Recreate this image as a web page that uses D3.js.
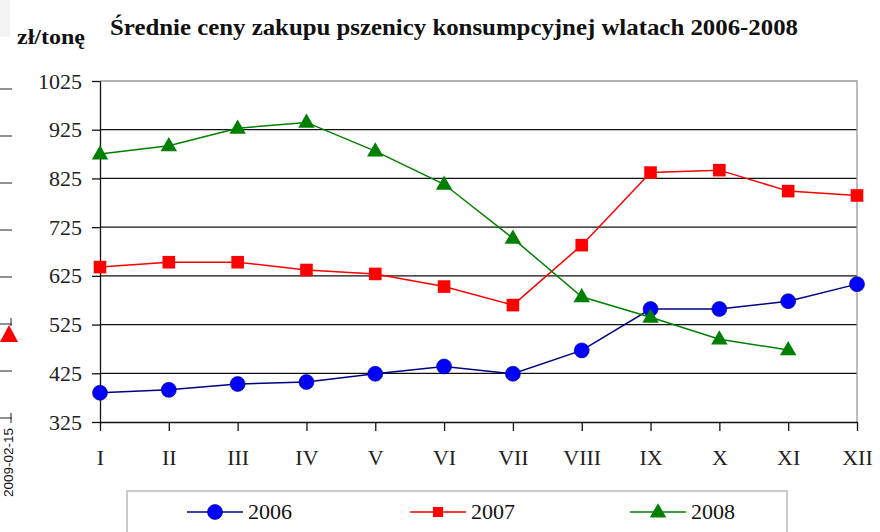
<!DOCTYPE html>
<html>
<head>
<meta charset="utf-8">
<script src="https://cdn.jsdelivr.net/npm/d3@7"></script>
<style>
  body { margin: 0; background: #fff; }
  svg { display: block; }
</style>
</head>
<body>
<div id="chart"></div>
<script>
// data
const MONTHS = ["I", "II", "III", "IV", "V", "VI", "VII", "VIII", "IX", "X", "XI", "XII"];
const Y_TICKS = [325, 425, 525, 625, 725, 825, 925, 1025];
const SERIES_NAMES = ["2006", "2007", "2008"];
const PRICES_2006 = [385, 391, 403, 407, 424, 439, 424, 472, 557, 557, 573, 608];
const PRICES_2007 = [643, 653, 653, 637, 629, 603, 565, 688, 837, 842, 799, 790];
const PRICES_2008 = [875, 892, 928, 940, 881, 813, 702, 582, 540, 495, 473];

const WIDTH = 880;
const HEIGHT = 532;
const PLOT = {left: 100, right: 857, top: 81, bottom: 422};
const SERIF = "'Liberation Serif'";

const SVG = d3.select("#chart")
              .append("svg")
                .attr("width", WIDTH)
                .attr("height", HEIGHT);

const X_SCALE = d3.scalePoint()
                  .domain(MONTHS)
                  .range([PLOT.left, PLOT.right]);

const Y_SCALE = d3.scaleLinear()
                  .domain([325, 1025])
                  .range([PLOT.bottom, PLOT.top]);

// leftovers of the neighbouring chart on the left edge
SVG.append("rect")
    .attr("x", 0).attr("y", 0).attr("width", 10).attr("height", 37)
    .attr("fill", "#f3f3f3");
const LEFT_Y = d3.scaleLinear().domain([0, 7]).range([89, 418]);
SVG.selectAll(".leftline")
    .data(d3.range(8))
    .enter()
    .append("line")
      .attr("x1", 0).attr("x2", 12)
      .attr("y1", (d) => LEFT_Y(d)).attr("y2", (d) => LEFT_Y(d))
      .attr("stroke", "#222").attr("stroke-width", 1);
SVG.append("line")
    .attr("x1", 11).attr("x2", 11).attr("y1", 413).attr("y2", 423)
    .attr("stroke", "#222");
SVG.append("line")
    .attr("x1", 11).attr("x2", 11).attr("y1", 318).attr("y2", 326)
    .attr("stroke", "#222");
SVG.append("path")
    .attr("d", "M9,325 L18,342 L0,342 Z")
    .attr("fill", "#ff0000");
SVG.append("text")
    .attr("transform", "translate(13,497) rotate(-90)")
    .style("font-family", "'Liberation Sans'")
    .style("font-size", "13.5px")
    .attr("fill", "#111")
    .text("2009-02-15");

// title and unit
SVG.append("text")
    .attr("x", 110).attr("y", 35)
    .style("font-family", SERIF)
    .style("font-weight", "bold")
    .style("font-size", "23px")
    .attr("textLength", 688)
    .attr("lengthAdjust", "spacingAndGlyphs")
    .attr("fill", "#111")
    .text("Średnie ceny zakupu pszenicy konsumpcyjnej wlatach 2006-2008");

SVG.append("text")
    .attr("x", 17).attr("y", 44)
    .style("font-family", SERIF)
    .style("font-weight", "bold")
    .style("font-size", "20px")
    .attr("textLength", 68)
    .attr("lengthAdjust", "spacingAndGlyphs")
    .attr("fill", "#111")
    .text("zł/tonę");

// grid lines
SVG.selectAll(".grid")
    .data(Y_TICKS.slice(1, -1))
    .enter()
    .append("line")
      .attr("x1", PLOT.left).attr("x2", PLOT.right)
      .attr("y1", (d) => Y_SCALE(d)).attr("y2", (d) => Y_SCALE(d))
      .attr("stroke", "#111").attr("stroke-width", 1.3);

// top and right border in grey
SVG.append("path")
    .attr("d", "M" + PLOT.left + "," + Y_SCALE(1025) + " H" + PLOT.right + " V" + PLOT.bottom)
    .attr("fill", "none")
    .attr("stroke", "#999").attr("stroke-width", 1.3);

// y axis
const Y_AXIS = SVG.append("g")
    .attr("transform", "translate(" + PLOT.left + ",0)")
    .call(d3.axisLeft(Y_SCALE).tickValues(Y_TICKS).tickFormat(d3.format("d"))
            .tickSize(8).tickPadding(10).tickSizeOuter(0));
Y_AXIS.selectAll("text")
    .style("font-family", SERIF).style("font-size", "22px").attr("fill", "#222");
Y_AXIS.selectAll("line, path").attr("stroke", "#111").attr("stroke-width", 1.3);

// x axis
const X_AXIS = SVG.append("g")
    .attr("transform", "translate(0," + PLOT.bottom + ")")
    .call(d3.axisBottom(X_SCALE).tickSize(9).tickPadding(18).tickSizeOuter(0));
X_AXIS.selectAll("text")
    .style("font-family", SERIF).style("font-size", "22px").attr("fill", "#222");
X_AXIS.selectAll("line, path").attr("stroke", "#111").attr("stroke-width", 1.3);

// series
const SERIES = [
  {name: SERIES_NAMES[0], values: PRICES_2006, line: "#000080", fill: "#0000ff", shape: "circle"},
  {name: SERIES_NAMES[1], values: PRICES_2007, line: "#ff0000", fill: "#ff0000", shape: "square"},
  {name: SERIES_NAMES[2], values: PRICES_2008, line: "#008000", fill: "#008000", shape: "triangle"}
];

const LINE = d3.line()
               .x((d, i) => X_SCALE(MONTHS[i]))
               .y((d) => Y_SCALE(d));

// draw a marker of the given shape at (cx, cy)
function drawMarker(g, shape, cx, cy, color, size) {
  if (shape === "circle") {
    g.append("circle")
      .attr("cx", cx).attr("cy", cy).attr("r", size * 0.5)
      .attr("fill", color).attr("stroke", "#000080").attr("stroke-width", 0.6);
  } else if (shape === "square") {
    g.append("rect")
      .attr("x", cx - size * 0.42).attr("y", cy - size * 0.42)
      .attr("width", size * 0.84).attr("height", size * 0.84)
      .attr("fill", color);
  } else {
    const h = size * 0.95;
    g.append("path")
      .attr("d", "M" + cx + "," + (cy - h * 0.62) +
                 " L" + (cx + size * 0.55) + "," + (cy + h * 0.38) +
                 " L" + (cx - size * 0.55) + "," + (cy + h * 0.38) + " Z")
      .attr("fill", color);
  }
}

SERIES.forEach((s) => {
  SVG.append("path")
      .datum(s.values)
      .attr("d", LINE)
      .attr("fill", "none")
      .attr("stroke", s.line)
      .attr("stroke-width", 1.5);
});

SERIES.forEach((s) => {
  const g = SVG.append("g");
  s.values.forEach((v, i) => {
    drawMarker(g, s.shape, X_SCALE(MONTHS[i]), Y_SCALE(v), s.fill, 15);
  });
});

// legend
SVG.append("rect")
    .attr("x", 127).attr("y", 491).attr("width", 660).attr("height", 60)
    .attr("fill", "#fff").attr("stroke", "#aaa").attr("stroke-width", 1.2);

const LEGEND_X = [187, 410, 630];
SERIES.forEach((s, i) => {
  const g = SVG.append("g");
  const x0 = LEGEND_X[i];
  g.append("line")
    .attr("x1", x0).attr("x2", x0 + 56).attr("y1", 512).attr("y2", 512)
    .attr("stroke", s.line).attr("stroke-width", 1.5);
  drawMarker(g, s.shape, x0 + 28, 512, s.fill, s.shape === "square" ? 12 : 15);
  g.append("text")
    .attr("x", x0 + 61).attr("y", 519)
    .style("font-family", SERIF).style("font-size", "22px").attr("fill", "#111")
    .text(s.name);
});
</script>
</body>
</html>
